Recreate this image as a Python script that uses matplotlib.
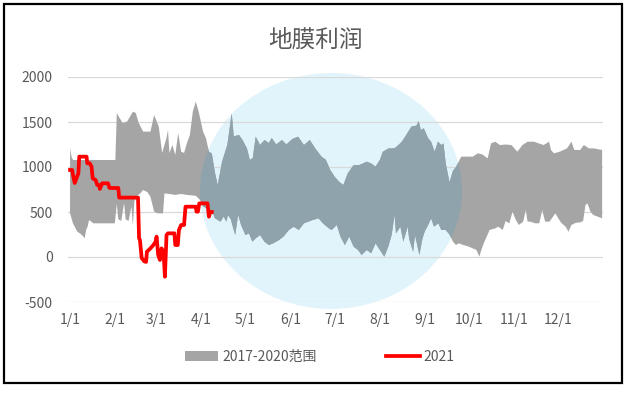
import numpy as np
import matplotlib
matplotlib.use("Agg")
import matplotlib.pyplot as plt
from matplotlib.patches import Ellipse, Rectangle, Patch
from matplotlib.lines import Line2D
from matplotlib.transforms import IdentityTransform

plt.rcParams['font.family'] = ['Noto Sans CJK SC', 'DejaVu Sans']

# ---------------- data ----------------
title = "地膜利润"
month_ticks = [0, 31, 59, 90, 120, 151, 181, 212, 243, 273, 304, 334]
month_labels = ["1/1", "2/1", "3/1", "4/1", "5/1", "6/1", "7/1", "8/1", "9/1", "10/1", "11/1", "12/1"]
y_ticks = [-500, 0, 500, 1000, 1500, 2000]
band_label = "2017-2020范围"
line_label = "2021"

# upper edge of 2017-2020 range (day of year, value)
upper_days = [0, 1, 2, 31, 32, 34, 36, 39, 43, 45, 47, 50, 55, 57.5, 60.7, 63, 66, 67, 68, 70, 72, 74,
              76, 78, 80, 82, 84, 86, 88, 91, 93, 95, 97, 99, 101, 104, 107.6, 110.6, 112, 115.6, 118,
              121, 123, 125, 127, 130, 133, 136, 138, 141, 145, 148, 152, 156, 160, 164, 168, 172, 175,
              178, 181, 184, 187, 190, 194, 198, 203, 206, 209, 212, 214, 218, 222, 225, 227, 230, 233.5,
              237, 238.5, 240, 242, 245, 247, 249.4, 251.7, 254, 255.5, 257, 259.6, 262, 264, 267.6, 271,
              275.5, 279, 282, 285.7, 288, 291, 294, 298, 302, 306, 309.5, 313, 317.5, 321, 324, 327.7,
              329, 331, 335, 340, 343, 345, 349, 351.5, 355, 358, 364]
upper_vals = [1208, 1115, 1078, 1078, 1600, 1541, 1489, 1504, 1615, 1600, 1489, 1393, 1393, 1578, 1448,
              1156, 1322, 1411, 1156, 1244, 1133, 1378, 1170, 1156, 1267, 1356, 1615, 1726, 1615, 1393,
              1319, 1170, 1150, 948, 800, 1059, 1244, 1600, 1340, 1356, 1300, 1207, 1078, 1100, 1337,
              1244, 1300, 1267, 1322, 1250, 1300, 1250, 1310, 1337, 1244, 1300, 1200, 1115, 1080, 967,
              893, 837, 800, 930, 1022, 1022, 1059, 1040, 1004, 1080, 1170, 1207, 1207, 1250, 1281, 1356,
              1448, 1460, 1511, 1411, 1430, 1319, 1281, 1170, 1281, 1244, 1263, 1041, 830, 960, 1000,
              1115, 1115, 1115, 1152, 1140, 1096, 1263, 1281, 1244, 1250, 1244, 1170, 1244, 1281, 1281,
              1260, 1244, 1281, 1189, 1152, 1170, 1207, 1281, 1189, 1189, 1244, 1207, 1207, 1189]

# lower edge of 2017-2020 range (day of year, value)
lower_days = [0, 2, 5, 7, 9, 10, 11, 12, 13, 16, 23, 30.6, 32, 33, 35, 37, 38, 40, 42, 43, 44, 46, 48,
              50, 53, 55, 57.5, 60, 63.6, 64.6, 68, 72, 76, 80, 86, 89, 91, 94, 97, 99, 101, 103, 105,
              107, 108, 110, 111, 113, 115, 117, 120, 122.4, 124.7, 127, 130, 133, 136, 139, 143, 146,
              149.7, 153, 156.5, 160, 163, 166, 170, 173, 177, 179, 182.5, 185, 188, 191, 194, 197,
              199.5, 203, 206, 209, 212, 215, 217.7, 220, 222, 223, 226, 228, 231, 232, 234.7, 236, 239,
              241, 242.6, 245, 247, 249, 252, 254, 257, 259.6, 262, 264, 266, 269, 272, 275.5, 278, 280,
              281, 283, 285.7, 287, 291, 293, 296, 298, 300.5, 302.7, 305, 307, 310, 311.8, 313, 315,
              318, 321, 323, 325, 328, 332, 334, 336, 339, 341, 343, 346, 349, 351, 352.6, 354, 356,
              358, 364]
lower_vals = [485, 374, 281, 260, 230, 207, 300, 337, 411, 374, 374, 374, 590, 420, 400, 600, 420, 400,
              560, 350, 620, 680, 707, 744, 720, 670, 504, 485, 485, 707, 700, 690, 700, 690, 680, 633,
              560, 540, 522, 433, 411, 393, 448, 393, 467, 420, 356, 244, 470, 356, 244, 263, 170, 207,
              244, 170, 133, 152, 189, 226, 300, 337, 300, 374, 393, 411, 430, 374, 319, 300, 356, 226,
              133, 226, 115, 78, 22, 78, 41, 152, 78, 4, 115, 244, 467, 263, 337, 170, 337, 200, 59, 244,
              22, 200, 281, 356, 430, 337, 374, 300, 300, 250, 170, 133, 152, 133, 120, 96, 78, 4, 60,
              152, 250, 300, 319, 337, 300, 400, 374, 504, 411, 356, 393, 522, 393, 393, 375, 374, 522,
              393, 393, 485, 430, 380, 337, 281, 356, 380, 385, 400, 578, 596, 504, 467, 430]

# 2021 profit (day of year, value)
y2021_days = [0, 1.5, 2, 3.2, 4, 5.7, 6.3, 9, 11.3, 11.8, 13.5, 14.7, 15.5, 17.5, 18.6, 20, 20.4, 22,
              23, 26, 27, 33, 33.6, 46.5, 47.2, 47.8, 49, 50.7, 52, 52.6, 55, 57, 58.5, 59.2, 60.3, 61.5,
              62.6, 64, 64.9, 66, 67, 70, 71.4, 72, 73.7, 74.5, 76, 78, 79, 86, 86.5, 87.5, 88.4, 94, 95,
              96, 97]
y2021_vals = [967, 967, 911, 822, 856, 930, 1115, 1115, 1115, 1041, 1041, 1004, 874, 856, 800, 800, 756,
              819, 819, 819, 767, 767, 660, 660, 211, 189, -11, -48, -55, 59, 96, 133, 170, 226, 22, -33,
              96, 41, -219, 244, 263, 263, 263, 133, 133, 300, 356, 356, 559, 559, 504, 504, 596, 596, 448,
              504, 500]

# ---------------- figure ----------------
W, H = 631, 393
fig = plt.figure(figsize=(W / 100, H / 100), dpi=100)
fig.patch.set_facecolor('white')
ax = fig.add_axes([68 / W, 1 - 302 / H, (603 - 68) / W, 225 / H])

ax.set_xlim(-1.4, 364.6)
ax.set_ylim(-500, 2000)

# watermark disc (pixel coordinates)
disc = Ellipse((331, H - 191), 262, 236, transform=IdentityTransform(),
               facecolor='#e1f4fb', edgecolor='none', zorder=0.3, clip_on=False)
ax.add_artist(disc)

poly_x = np.concatenate([upper_days, lower_days[::-1]])
poly_y = np.concatenate([upper_vals, lower_vals[::-1]])
ax.fill(poly_x, poly_y, color='#a5a5a5', lw=0, zorder=2)
tinted = ax.fill(poly_x, poly_y, color='#8fa3ac', lw=0, zorder=2.1)[0]
disc_clip = Ellipse((331, H - 191), 262, 236, transform=IdentityTransform())
tinted.set_clip_path(disc_clip)

ax.plot(y2021_days, y2021_vals, color='#ff0000', lw=2.7, zorder=3, solid_joinstyle='round')

ax.set_yticks(y_ticks)
ax.set_yticklabels([str(v) for v in y_ticks])
ax.set_xticks(month_ticks)
ax.set_xticklabels(month_labels)
ax.grid(axis='y', color='#d9d9d9', lw=0.9)
ax.set_axisbelow(True)
for s in ax.spines.values():
    s.set_visible(False)
ax.tick_params(axis='both', length=0, colors='#595959', labelsize=10)
ax.tick_params(axis='y', pad=11)
ax.tick_params(axis='x', pad=8)

fig.text(315 / W, 1 - 40 / H, title, ha='center', va='center', fontsize=17, color='#595959')

handles = [Patch(facecolor='#a5a5a5', edgecolor='none'),
           Line2D([0], [0], color='#ff0000', lw=2.7)]
fig.legend(handles, [band_label, line_label], loc='center', bbox_to_anchor=(320 / W, 1 - 357 / H),
           ncol=2, frameon=False, fontsize=10, labelcolor='#595959', handlelength=2.4,
           handletextpad=0.3, columnspacing=5.0)

fig.patches.append(Rectangle((4, H - 383), 618, 379, transform=IdentityTransform(),
                             fill=False, edgecolor='black', lw=1.6))

fig.savefig('out.png', dpi=100)
